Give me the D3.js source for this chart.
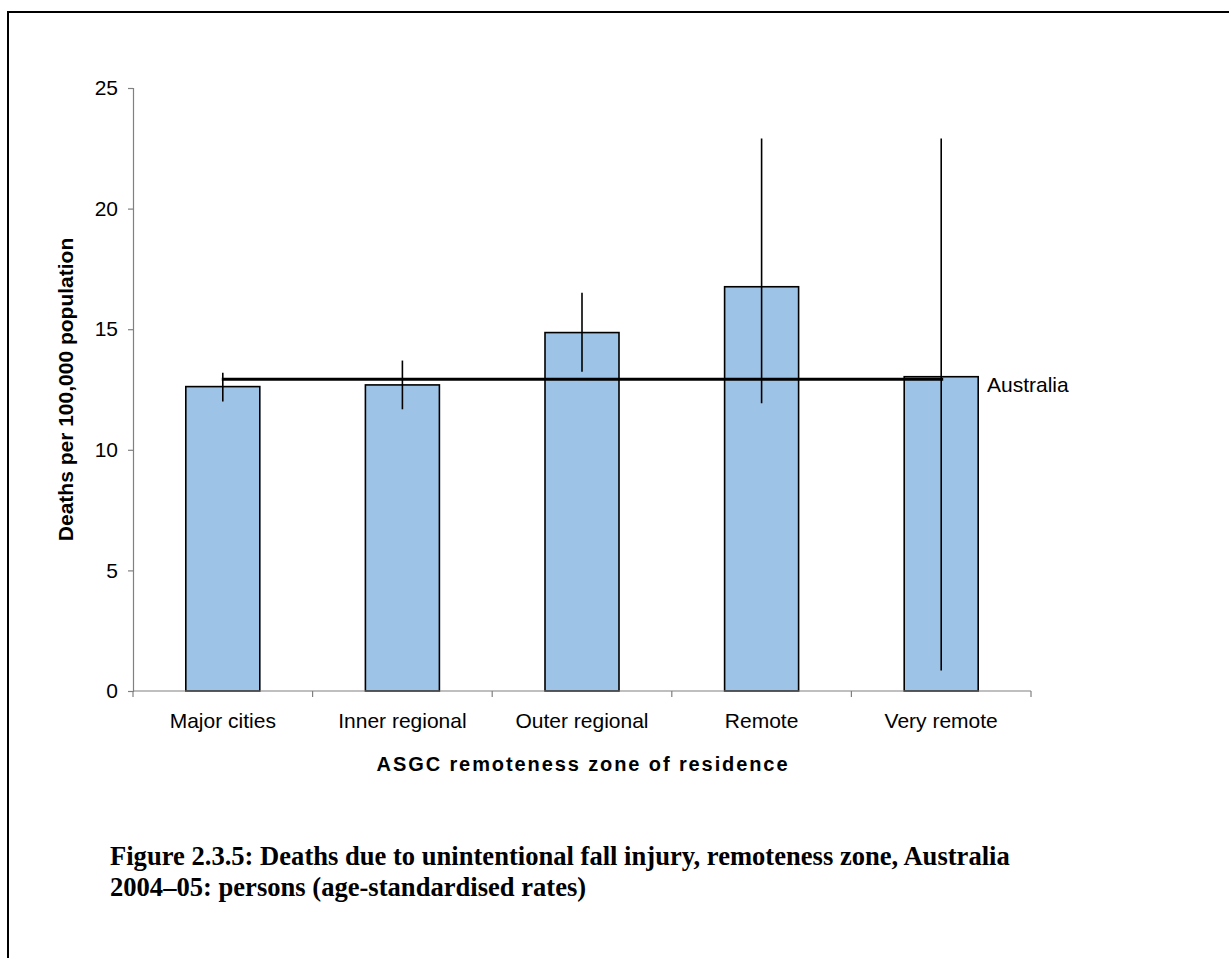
<!DOCTYPE html>
<html>
<head>
<meta charset="utf-8">
<script src="https://cdn.jsdelivr.net/npm/d3@7"></script>
<style>
  html, body { margin: 0; padding: 0; background: #fff; }
  svg { display: block; }
</style>
</head>
<body>
<svg id="chart" width="1229" height="958"></svg>
<script>
const categories = ["Major cities", "Inner regional", "Outer regional", "Remote", "Very remote"];
const rates = [12.62, 12.69, 14.86, 16.76, 13.03];
const lowerCI = [12.0, 11.68, 13.24, 11.93, 0.85];
const upperCI = [13.19, 13.7, 16.51, 22.91, 22.91];
const australiaRate = 12.93;
const yTicks = [0, 5, 10, 15, 20, 25];
const yTitle = "Deaths per 100,000 population";
const xTitle = "ASGC remoteness zone of residence";
const refLabel = "Australia";
const caption = ["Figure 2.3.5: Deaths due to unintentional fall injury, remoteness zone, Australia",
                 "2004–05: persons (age-standardised rates)"];

(function () {
const svg = d3.select("#chart");
const mLeft = 133, mRight = 1031, mTop = 88, mBottom = 691;

svg.append("path").attr("d", `M8,958 L8,12 L1229,12`)
  .attr("fill", "none").attr("stroke", "#000").attr("stroke-width", 2);

const x = d3.scaleBand().domain(categories).range([mLeft, mRight])
  .paddingInner(0.588).paddingOuter(0.294);
const y = d3.scaleLinear().domain([0, 25]).range([mBottom, mTop]);

const axisColor = "#808080";
const font = "'Liberation Sans', Arial, sans-serif";
const fs = 21;

const yAxis = svg.append("g").attr("transform", `translate(${mLeft},0)`)
  .call(d3.axisLeft(y).tickValues(yTicks).tickSize(5).tickPadding(10).tickFormat(d3.format("d")));
yAxis.select(".domain").attr("stroke", axisColor).attr("stroke-width", 1.2);
yAxis.selectAll(".tick line").attr("stroke", axisColor).attr("stroke-width", 1.2);
yAxis.selectAll(".tick text").attr("font-family", font).attr("font-size", fs).attr("fill", "#000");

svg.append("g").selectAll("rect").data(categories).join("rect")
  .attr("x", d => x(d))
  .attr("y", (d, i) => y(rates[i]))
  .attr("width", x.bandwidth())
  .attr("height", (d, i) => y(0) - y(rates[i]))
  .attr("fill", "#9DC3E6")
  .attr("stroke", "#000").attr("stroke-width", 1.6);

const step = x.step();
const boundaries = d3.range(categories.length + 1).map(i => mLeft + i * step);
const xg = svg.append("g");
xg.append("line").attr("x1", mLeft).attr("x2", mRight).attr("y1", mBottom).attr("y2", mBottom)
  .attr("stroke", axisColor).attr("stroke-width", 1.2);
xg.selectAll("line.tk").data(boundaries).join("line").attr("class", "tk")
  .attr("x1", d => d).attr("x2", d => d).attr("y1", mBottom).attr("y2", mBottom + 6)
  .attr("stroke", axisColor).attr("stroke-width", 1.2);
xg.selectAll("text").data(categories).join("text")
  .attr("x", d => x(d) + x.bandwidth() / 2)
  .attr("y", 728)
  .attr("text-anchor", "middle")
  .attr("font-family", font).attr("font-size", fs).attr("fill", "#000")
  .text(d => d);

const c0 = x(categories[0]) + x.bandwidth() / 2;
const cN = x(categories[categories.length - 1]) + x.bandwidth() / 2;
svg.append("line").attr("x1", c0 - 1).attr("x2", cN + 2)
  .attr("y1", y(australiaRate)).attr("y2", y(australiaRate))
  .attr("stroke", "#000").attr("stroke-width", 3);
svg.append("text").attr("x", 987).attr("y", y(australiaRate) + 13)
  .attr("font-family", font).attr("font-size", fs).attr("fill", "#000").text(refLabel);

svg.append("g").selectAll("line").data(categories).join("line")
  .attr("x1", d => x(d) + x.bandwidth() / 2)
  .attr("x2", d => x(d) + x.bandwidth() / 2)
  .attr("y1", (d, i) => y(upperCI[i]))
  .attr("y2", (d, i) => y(lowerCI[i]))
  .attr("stroke", "#000").attr("stroke-width", 1.6);

svg.append("text").attr("transform", `translate(73,${(mTop + mBottom) / 2}) rotate(-90)`)
  .attr("text-anchor", "middle")
  .attr("font-family", font).attr("font-size", fs).attr("font-weight", "bold")
  .text(yTitle);
svg.append("text").attr("x", (mLeft + mRight) / 2 + 1).attr("y", 771)
  .attr("text-anchor", "middle")
  .attr("font-family", font).attr("font-size", 20).attr("font-weight", "bold")
  .attr("letter-spacing", "1.9px")
  .text(xTitle);

const serif = "'Liberation Serif', 'Times New Roman', serif";
const cap1 = svg.append("text").attr("x", 110).attr("y", 865)
  .attr("font-family", serif).attr("font-size", 22).attr("font-weight", "bold")
  .text(caption[0]);
const w = cap1.node().getComputedTextLength();
const capSize = 22 * 900 / w;
cap1.attr("font-size", capSize);
svg.append("text").attr("x", 110).attr("y", 896)
  .attr("font-family", serif).attr("font-size", capSize).attr("font-weight", "bold")
  .text(caption[1]);
})();
</script>
</body>
</html>
